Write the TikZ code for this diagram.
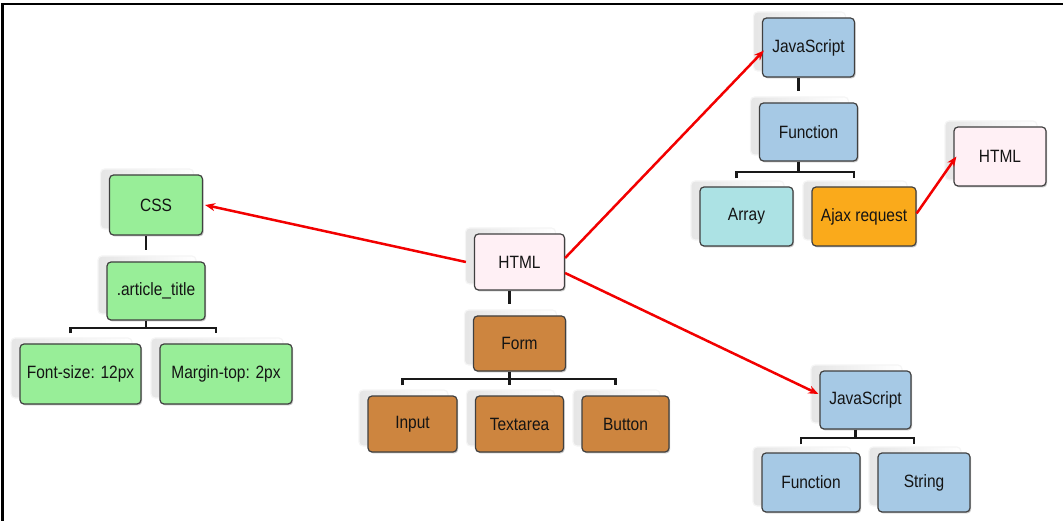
\documentclass[tikz,border=0pt]{standalone}
\usepackage{fontspec}
\setmainfont{Liberation Sans}
\usetikzlibrary{arrows.meta,shadows,calc}

\definecolor{cssgreen}{RGB}{152,238,152}
\definecolor{formbrown}{RGB}{205,133,63}
\definecolor{htmlpink}{RGB}{255,240,245}
\definecolor{jsblue}{RGB}{166,201,229}
\definecolor{arraycyan}{RGB}{172,226,228}
\definecolor{ajaxorange}{RGB}{250,170,27}

\newcommand{\lbl}[1]{\scalebox{1}[1.15]{#1}}

\tikzset{
  box/.style={draw=black!75, line width=1.2pt, rounded corners=4pt,
    inner sep=0pt, text=black!92,
    font=\fontsize{15.5}{18}\selectfont,
    general shadow={shadow xshift=-9pt, shadow yshift=6pt,
      left color=black!10, right color=white, draw=black!4},
    drop shadow={shadow xshift=1.2pt, shadow yshift=-1.4pt, fill=black!45}},
  tree/.style={draw=black!90, line width=2.1pt},
  link/.style={draw=red!95!black, line width=2.5pt,
    -{Stealth[length=10pt,width=8pt]}},
  frameline/.style={draw=black, line width=2.4pt}
}

\begin{document}
\begin{tikzpicture}[x=1pt,y=-1pt]
\useasboundingbox (0,0) rectangle (1063,521);
\draw[frameline] (2.5,521) -- (2.5,4) -- (1063,4);

% CSS branch
\node[box, fill=cssgreen, minimum width=93, minimum height=60] (css) at (156,205) {\lbl{CSS}};
\node[box, fill=cssgreen, minimum width=98, minimum height=58] (art) at (156,291) {\lbl{.article\_title}};
\node[box, fill=cssgreen, minimum width=121, minimum height=60] (fs) at (80.5,374) {\lbl{Font-size: 12px}};
\node[box, fill=cssgreen, minimum width=132, minimum height=60] (mt) at (226,374) {\lbl{Margin-top: 2px}};

% central HTML and its form
\node[box, fill=htmlpink, minimum width=90, minimum height=56] (html) at (519.5,262) {\lbl{HTML}};
\node[box, fill=formbrown, minimum width=92, minimum height=55] (form) at (519.5,343.5) {\lbl{Form}};
\node[box, fill=formbrown, minimum width=89, minimum height=56] (input) at (412.5,424) {\lbl{Input}};
\node[box, fill=formbrown, minimum width=88, minimum height=56] (textarea) at (519.5,424) {\lbl{Textarea}};
\node[box, fill=formbrown, minimum width=87, minimum height=56] (button) at (625.5,424) {\lbl{Button}};

% upper JavaScript branch
\node[box, fill=jsblue, minimum width=92, minimum height=59] (js) at (808.5,47.5) {\lbl{JavaScript}};
\node[box, fill=jsblue, minimum width=98, minimum height=58] (fn) at (808.5,132) {\lbl{Function}};
\node[box, fill=arraycyan, minimum width=93, minimum height=59] (arr) at (746.5,216.5) {\lbl{Array}};
\node[box, fill=ajaxorange, minimum width=104, minimum height=59] (ajax) at (864,216.5) {\lbl{Ajax request}};
\node[box, fill=htmlpink, minimum width=92, minimum height=59] (htmlb) at (1000,156.5) {\lbl{HTML}};

% lower JavaScript branch
\node[box, fill=jsblue, minimum width=91, minimum height=58] (jsb) at (865.5,400) {\lbl{JavaScript}};
\node[box, fill=jsblue, minimum width=98, minimum height=59] (fnb) at (811,482.5) {\lbl{Function}};
\node[box, fill=jsblue, minimum width=92, minimum height=59] (str) at (924,482.5) {\lbl{String}};

% tree connectors
\draw[tree] ([xshift=-10pt]css.south) -- ([xshift=-10pt,yshift=11pt]art.north);
\draw[tree] ([xshift=-10pt]html.south) -- ([xshift=-10pt,yshift=11pt]form.north);
\draw[tree] ([xshift=-10pt]js.south) -- ([xshift=-10pt,yshift=11pt]fn.north);

\draw[tree] ([xshift=-10pt]art.south) -- ++(0,7) coordinate (artbar);
\draw[tree] ([xshift=-10pt,yshift=10pt]fs.north) |- (artbar) -| ([xshift=-10pt,yshift=10pt]mt.north);

\draw[tree] ([xshift=-10pt]form.south) -- ++(0,7) coordinate (formbar);
\draw[tree] ([xshift=-10pt,yshift=10pt]input.north) |- (formbar) -| ([xshift=-10pt,yshift=10pt]button.north);
\draw[tree] (formbar) -- ([xshift=-10pt,yshift=10pt]textarea.north);

\draw[tree] ([xshift=-10pt]fn.south) -- ++(0,10) coordinate (fnbar);
\draw[tree] ([xshift=-10pt,yshift=8pt]arr.north) |- (fnbar) -| ([xshift=-10pt,yshift=8pt]ajax.north);

\draw[tree] ([xshift=-10pt]jsb.south) -- ++(0,8) coordinate (jsbar);
\draw[tree] ([xshift=-10pt,yshift=8pt]fnb.north) |- (jsbar) -| ([xshift=-10pt,yshift=8pt]str.north);

% red links between the trees
\draw[link] ([xshift=-8pt]html.west) -- ([xshift=2pt]css.east);
\draw[link] ([yshift=4pt]html.east) -- ([xshift=2pt,yshift=-3pt]js.west);
\draw[link] ([yshift=-11pt]html.east) -- ([xshift=-1pt,yshift=6pt]jsb.west);
\draw[link] ([yshift=3pt]ajax.east) -- ([xshift=3pt]htmlb.west);
\end{tikzpicture}
\end{document}
